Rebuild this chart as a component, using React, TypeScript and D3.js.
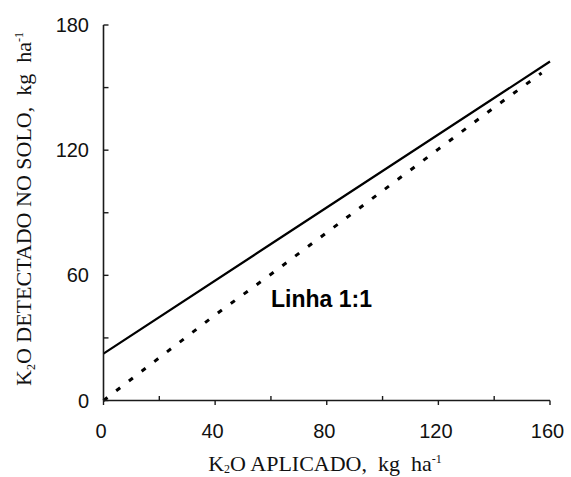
import React from "react";
import * as d3 from "d3";

// Data
const solidX = [0, 60, 160];
const solidY = [22.5, 75, 162.5];

const dottedX = [0, 20, 40, 60, 80, 100, 120, 140, 157];
const dottedY = [0, 20.5, 41, 60.5, 80.5, 100.5, 120.5, 140.5, 157];

const xMajorTicks = [0, 40, 80, 120, 160];
const xMinorTicks = [20, 60, 100, 140];
const yMajorTicks = [0, 60, 120, 180];
const yMinorTicks = [30, 90, 150];

const annotation = "Linha 1:1";

const W = 571;
const H = 477;

export default function App() {
  const x = d3.scaleLinear().domain([0, 160]).range([103.5, 550]);
  const y = d3.scaleLinear().domain([0, 180]).range([400.5, 25]);

  const line = d3
    .line<[number, number]>()
    .x((d) => x(d[0]))
    .y((d) => y(d[1]));

  const solidPts = solidX.map((v, i) => [v, solidY[i]] as [number, number]);
  const dottedPts = dottedX.map((v, i) => [v, dottedY[i]] as [number, number]);

  const sans = "'Liberation Sans', Arial, Helvetica, sans-serif";
  const serif = "'Liberation Serif', 'Times New Roman', serif";
  const axisColor = "#1a1a1a";

  return (
    <svg
      width={W}
      height={H}
      style={{ position: "absolute", left: 0, top: 0, background: "#fff" }}
    >
      <rect x={0} y={0} width={W} height={H} fill="#fff" />

      {/* data lines */}
      <path d={line(solidPts) || ""} fill="none" stroke="#000" strokeWidth={2.2} />
      <path
        d={line(dottedPts) || ""}
        fill="none"
        stroke="#000"
        strokeWidth={3}
        strokeDasharray="5,11"
      />

      {/* axes */}
      <line x1={x(0)} x2={x(160)} y1={y(0)} y2={y(0)} stroke={axisColor} strokeWidth={1.6} />
      <line x1={x(0)} x2={x(0)} y1={y(0)} y2={y(180)} stroke={axisColor} strokeWidth={1.6} />

      {xMajorTicks.map((t) => (
        <g key={"xM" + t}>
          <line x1={x(t)} x2={x(t)} y1={y(0)} y2={y(0) + 4.5} stroke={axisColor} strokeWidth={1.4} />
          <text
            x={x(t) - 2.5}
            y={437.5}
            textAnchor="middle"
            fontFamily={sans}
            fontSize={20}
            fill="#111"
          >
            {t}
          </text>
        </g>
      ))}
      {xMinorTicks.map((t) => (
        <line key={"xm" + t} x1={x(t)} x2={x(t)} y1={y(0)} y2={y(0) - 4.5} stroke={axisColor} strokeWidth={1.4} />
      ))}

      {yMajorTicks.map((t) => (
        <g key={"yM" + t}>
          <line x1={x(0)} x2={x(0) + 5} y1={y(t)} y2={y(t)} stroke={axisColor} strokeWidth={1.4} />
          <text
            x={89}
            y={y(t) + 7}
            textAnchor="end"
            fontFamily={sans}
            fontSize={20}
            fill="#111"
          >
            {t}
          </text>
        </g>
      ))}
      {yMinorTicks.map((t) => (
        <line key={"ym" + t} x1={x(0)} x2={x(0) + 5} y1={y(t)} y2={y(t)} stroke={axisColor} strokeWidth={1.4} />
      ))}

      {/* annotation */}
      <text x={271} y={306.5} fontFamily={sans} fontWeight="bold" fontSize={23} fill="#000">
        {annotation}
      </text>

      {/* x axis title */}
      <text
        x={325}
        y={471}
        textAnchor="middle"
        fontFamily={serif}
        fontSize={22}
        fill="#111"
        style={{ whiteSpace: "pre" }}
      >
        K
        <tspan fontSize={12} dy={2}>2</tspan>
        <tspan dy={-2}>{"O APLICADO,  kg  ha"}</tspan>
        <tspan fontSize={12} dy={-8}>-1</tspan>
      </text>

      {/* y axis title */}
      <text
        transform={`translate(31,209) rotate(-90)`}
        textAnchor="middle"
        fontFamily={serif}
        fontSize={22}
        fill="#111"
        style={{ whiteSpace: "pre" }}
      >
        K
        <tspan fontSize={12} dy={4}>2</tspan>
        <tspan dy={-4}>{"O DETECTADO NO SOLO,  kg  ha"}</tspan>
        <tspan fontSize={12} dy={-8}>-1</tspan>
      </text>
    </svg>
  );
}
